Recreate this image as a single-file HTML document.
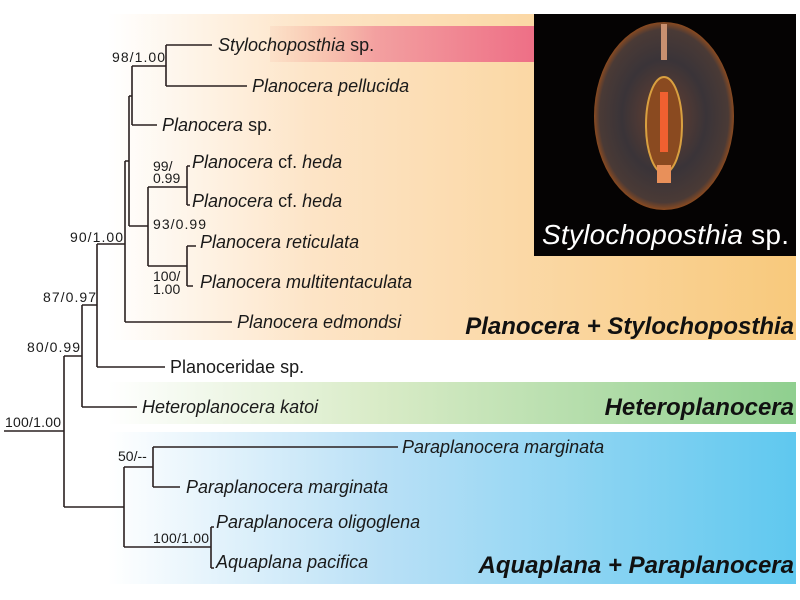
<!DOCTYPE html>
<html><head><meta charset="utf-8"><style>
html,body{margin:0;padding:0;background:#fff;}
svg{display:block;font-family:"Liberation Sans",Arial,sans-serif;}
.sp{font-size:18px;font-style:italic;fill:#1a1a1a;}
.sn{font-style:normal;}
.bs{font-size:14px;fill:#1a1a1a;}
.cl{font-size:24px;font-weight:bold;font-style:italic;fill:#111;}
</style></head><body>
<svg width="800" height="600" viewBox="0 0 800 600" xmlns="http://www.w3.org/2000/svg">
<defs>
<linearGradient id="go" x1="0" x2="1"><stop offset="0" stop-color="#fff"/><stop offset="0.3" stop-color="#fde4c6"/><stop offset="1" stop-color="#f8c97c"/></linearGradient>
<linearGradient id="gp" x1="0" x2="1"><stop offset="0" stop-color="#f7c0a8" stop-opacity="0.2"/><stop offset="0.4" stop-color="#f3a0a0"/><stop offset="1" stop-color="#ee6f86"/></linearGradient>
<linearGradient id="gg" x1="0" x2="1"><stop offset="0" stop-color="#fff"/><stop offset="0.4" stop-color="#d8ebc6"/><stop offset="1" stop-color="#8fcf8f"/></linearGradient>
<linearGradient id="gb" x1="0" x2="1"><stop offset="0" stop-color="#fff"/><stop offset="0.4" stop-color="#b9e0f6"/><stop offset="1" stop-color="#5fc8ef"/></linearGradient>
<radialGradient id="gw" cx="0.5" cy="0.5" r="0.5"><stop offset="0" stop-color="#6a4030"/><stop offset="0.6" stop-color="#3a3438"/><stop offset="0.92" stop-color="#4a3a36"/><stop offset="1" stop-color="#8a4a20"/></radialGradient>
</defs>
<rect x="108" y="14" width="688" height="326" fill="url(#go)"/>
<rect x="270" y="26" width="264" height="36" fill="url(#gp)"/>
<rect x="108" y="382" width="688" height="42" fill="url(#gg)"/>
<rect x="108" y="432" width="688" height="152" fill="url(#gb)"/>
<rect x="534" y="14" width="262" height="242" fill="#050303"/>
<ellipse cx="664" cy="116" rx="70" ry="94" fill="url(#gw)"/>
<ellipse cx="664" cy="125" rx="18" ry="48" fill="#8a4a20" stroke="#d9a040" stroke-width="2"/>
<rect x="660" y="92" width="8" height="60" fill="#f06030"/>
<rect x="657" y="165" width="14" height="18" fill="#e8905a"/>
<path d="M664 24V60" stroke="#c89070" stroke-width="6"/>
<text x="542" y="244" font-size="28" fill="#fff" textLength="247"><tspan font-style="italic">Stylochoposthia</tspan> sp.</text>
<g stroke="#2a2020" stroke-width="1.6" fill="none">
<path d="M4 431H64M64 356V507M64 356H82M64 507H124"/>
<path d="M82 305V407M82 305H97M82 407H137"/>
<path d="M97 244V367M97 244H125M97 367H165"/>
<path d="M125 161V322M125 322H232M125 161H129M129 96V226M129 96H132M132 66V125M132 125H157M132 66H166"/>
<path d="M166 45V86M166 45H212M166 86H247"/>
<path d="M129 226H148M148 187V266M148 187H187M187 166V205M187 166H190M187 205H190M148 266H187M187 246V286M187 246H196M187 286H193"/>
<path d="M124 467V547M124 467H153M153 447V487M153 447H398M153 487H180M124 547H211M211 527V568M211 527H214M211 568H214"/>
</g>
<text class="sp" x="218" y="51">Stylochoposthia <tspan class="sn">sp.</tspan></text>
<text class="sp" x="252" y="92">Planocera pellucida</text>
<text class="sp" x="162" y="131">Planocera <tspan class="sn">sp.</tspan></text>
<text class="sp" x="192" y="168">Planocera <tspan class="sn">cf.</tspan> heda</text>
<text class="sp" x="192" y="207">Planocera <tspan class="sn">cf.</tspan> heda</text>
<text class="sp" x="200" y="248">Planocera reticulata</text>
<text class="sp" x="200" y="288">Planocera multitentaculata</text>
<text class="sp" x="237" y="328">Planocera edmondsi</text>
<text class="sp sn" x="170" y="373" style="font-style:normal">Planoceridae sp.</text>
<text class="sp" x="142" y="413">Heteroplanocera katoi</text>
<text class="sp" x="402" y="453">Paraplanocera marginata</text>
<text class="sp" x="186" y="493">Paraplanocera marginata</text>
<text class="sp" x="216" y="528">Paraplanocera oligoglena</text>
<text class="sp" x="216" y="568">Aquaplana pacifica</text>
<text class="bs" x="112" y="62" textLength="53">98/1.00</text>
<text class="bs" x="153" y="171">99/</text>
<text class="bs" x="153" y="183">0.99</text>
<text class="bs" x="153" y="229" textLength="53">93/0.99</text>
<text class="bs" x="153" y="281">100/</text>
<text class="bs" x="153" y="294">1.00</text>
<text class="bs" x="70" y="242" textLength="53">90/1.00</text>
<text class="bs" x="43" y="302" textLength="53">87/0.97</text>
<text class="bs" x="27" y="352" textLength="53">80/0.99</text>
<text class="bs" x="5" y="427" textLength="56">100/1.00</text>
<text class="bs" x="118" y="461">50/--</text>
<text class="bs" x="153" y="543" textLength="56">100/1.00</text>
<text class="cl" x="794" y="334" text-anchor="end">Planocera + Stylochoposthia</text>
<text class="cl" x="794" y="415" text-anchor="end">Heteroplanocera</text>
<text class="cl" x="794" y="573" text-anchor="end">Aquaplana + Paraplanocera</text>
</svg>
</body></html>
